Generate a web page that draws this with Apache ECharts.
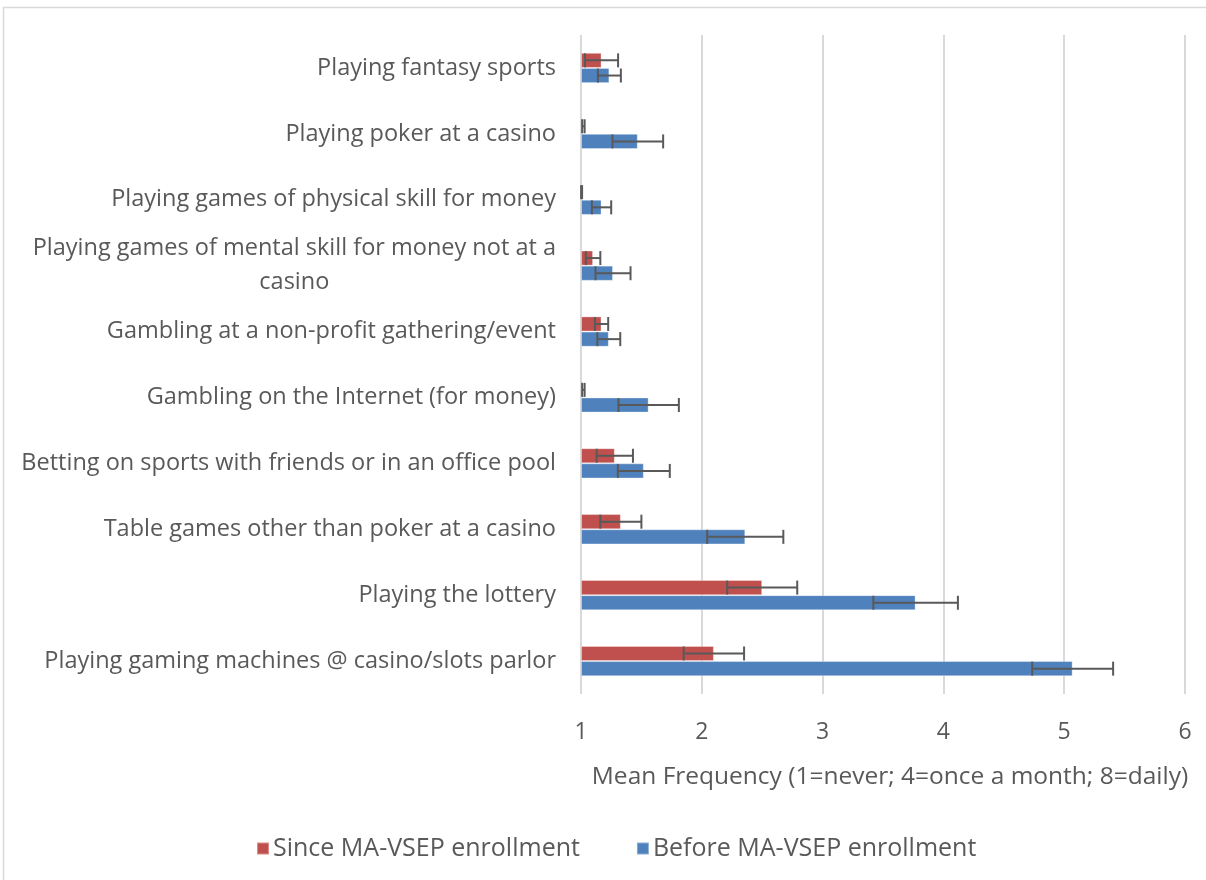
<!DOCTYPE html>
<html>
<head>
<meta charset="utf-8">
<script src="https://cdn.jsdelivr.net/npm/echarts@6/dist/echarts.min.js"></script>
<style>
html,body{margin:0;padding:0;background:#fff;}
#chart{width:1206px;height:880px;}
</style>
</head>
<body>
<div id="chart"></div>
<script>
// Categories listed bottom -> top
var categories = [
  'Playing gaming machines @ casino/slots parlor',
  'Playing the lottery',
  'Table games other than poker at a casino',
  'Betting on sports with friends or in an office pool',
  'Gambling on the Internet (for money)',
  'Gambling at a non-profit gathering/event',
  'Playing games of mental skill for money not at a\ncasino',
  'Playing games of physical skill for money',
  'Playing poker at a casino',
  'Playing fantasy sports'
];
var seriesNames = ['Since MA-VSEP enrollment', 'Before MA-VSEP enrollment'];
var sinceMean = [2.10, 2.50, 1.33, 1.28, 1.02, 1.17, 1.10, 1.005, 1.02, 1.17];
var sinceErr  = [0.25, 0.29, 0.17, 0.15, 0.01, 0.055, 0.06, 0.004, 0.01, 0.137];
var beforeMean = [5.07, 3.77, 2.36, 1.52, 1.56, 1.23, 1.265, 1.17, 1.47, 1.235];
var beforeErr  = [0.335, 0.35, 0.315, 0.215, 0.25, 0.095, 0.145, 0.08, 0.21, 0.095];
var xTicks = [1, 2, 3, 4, 5, 6];

var FONT = '"Open Sans"';
var TXT = '#595959';
var BAR_CAT_GAP = 0.54;

function errData(mean, err) {
  return mean.map(function (m, i) { return [i, m - err[i], m + err[i]]; });
}
function makeErrRender(slot) {
  return function (params, api) {
    var ci = api.value(0);
    var p1 = api.coord([api.value(1), ci]);
    var p2 = api.coord([api.value(2), ci]);
    var band = api.size([0, 1])[1];
    var bw = band * (1 - BAR_CAT_GAP) / 2;
    var y = p1[1] + (slot === 0 ? -bw / 2 : bw / 2);
    var cap = 7;
    var st = { stroke: '#595959', lineWidth: 2 };
    return {
      type: 'group',
      children: [
        { type: 'line', shape: { x1: p1[0], y1: y, x2: p2[0], y2: y }, style: st },
        { type: 'line', shape: { x1: p1[0], y1: y - cap, x2: p1[0], y2: y + cap }, style: st },
        { type: 'line', shape: { x1: p2[0], y1: y - cap, x2: p2[0], y2: y + cap }, style: st }
      ]
    };
  };
}

var chart = echarts.init(document.getElementById('chart'), null, { renderer: 'canvas' });
chart.setOption({
  animation: false,
  backgroundColor: '#fff',
  textStyle: { fontFamily: FONT },
  graphic: [{
    type: 'rect', silent: true,
    shape: { x: 3.5, y: 7.5, width: 1400, height: 1000 },
    style: { fill: 'none', stroke: '#d9d9d9', lineWidth: 1.5 }
  }],
  grid: { left: 581, right: 21, top: 35, bottom: 186, containLabel: false },
  legend: {
    data: seriesNames,
    bottom: 14,
    left: 251,
    itemWidth: 12, itemHeight: 12, itemGap: 56,
    icon: 'rect',
    textStyle: { fontFamily: FONT, fontSize: 25, color: TXT, padding: [0, 0, 0, -1] }
  },
  xAxis: {
    type: 'value',
    min: xTicks[0], max: xTicks[xTicks.length - 1], interval: 1,
    startValue: 1,
    axisLine: { show: false },
    axisTick: { show: false },
    axisLabel: { fontFamily: FONT, fontSize: 23, color: TXT, margin: 27 },
    splitLine: { show: true, lineStyle: { color: '#d9d9d9', width: 2 } },
    name: 'Mean Frequency (1=never; 4=once a month; 8=daily)',
    nameLocation: 'middle',
    nameGap: 71,
    nameTextStyle: { fontFamily: FONT, fontSize: 24.5, color: TXT, padding: [0, 0, 0, 14] }
  },
  yAxis: {
    type: 'category',
    data: categories,
    axisLine: { show: false },
    axisTick: { show: false },
    axisLabel: {
      fontFamily: FONT, fontSize: 23.5, color: TXT, margin: 25, lineHeight: 34,
      formatter: function (v) { return '{c|' + v + '}'; },
      rich: { c: { fontFamily: FONT, fontSize: 23.5, color: TXT, align: 'center', lineHeight: 34 } }
    }
  },
  series: [
    {
      name: seriesNames[0], type: 'bar', data: sinceMean,
      barGap: '0%', barCategoryGap: (BAR_CAT_GAP * 100) + '%',
      itemStyle: { color: '#C0504D', borderColor: 'rgba(255,255,255,0.35)', borderWidth: 1 },
      z: 2
    },
    {
      name: seriesNames[1], type: 'bar', data: beforeMean,
      barGap: '0%', barCategoryGap: (BAR_CAT_GAP * 100) + '%',
      itemStyle: { color: '#4F81BD', borderColor: 'rgba(255,255,255,0.35)', borderWidth: 1 },
      z: 2
    },
    {
      type: 'custom', name: 'errSince', data: errData(sinceMean, sinceErr),
      renderItem: makeErrRender(0), z: 5, silent: true,
      encode: { x: [1, 2], y: 0 }
    },
    {
      type: 'custom', name: 'errBefore', data: errData(beforeMean, beforeErr),
      renderItem: makeErrRender(1), z: 5, silent: true,
      encode: { x: [1, 2], y: 0 }
    }
  ]
});
</script>
</body>
</html>
